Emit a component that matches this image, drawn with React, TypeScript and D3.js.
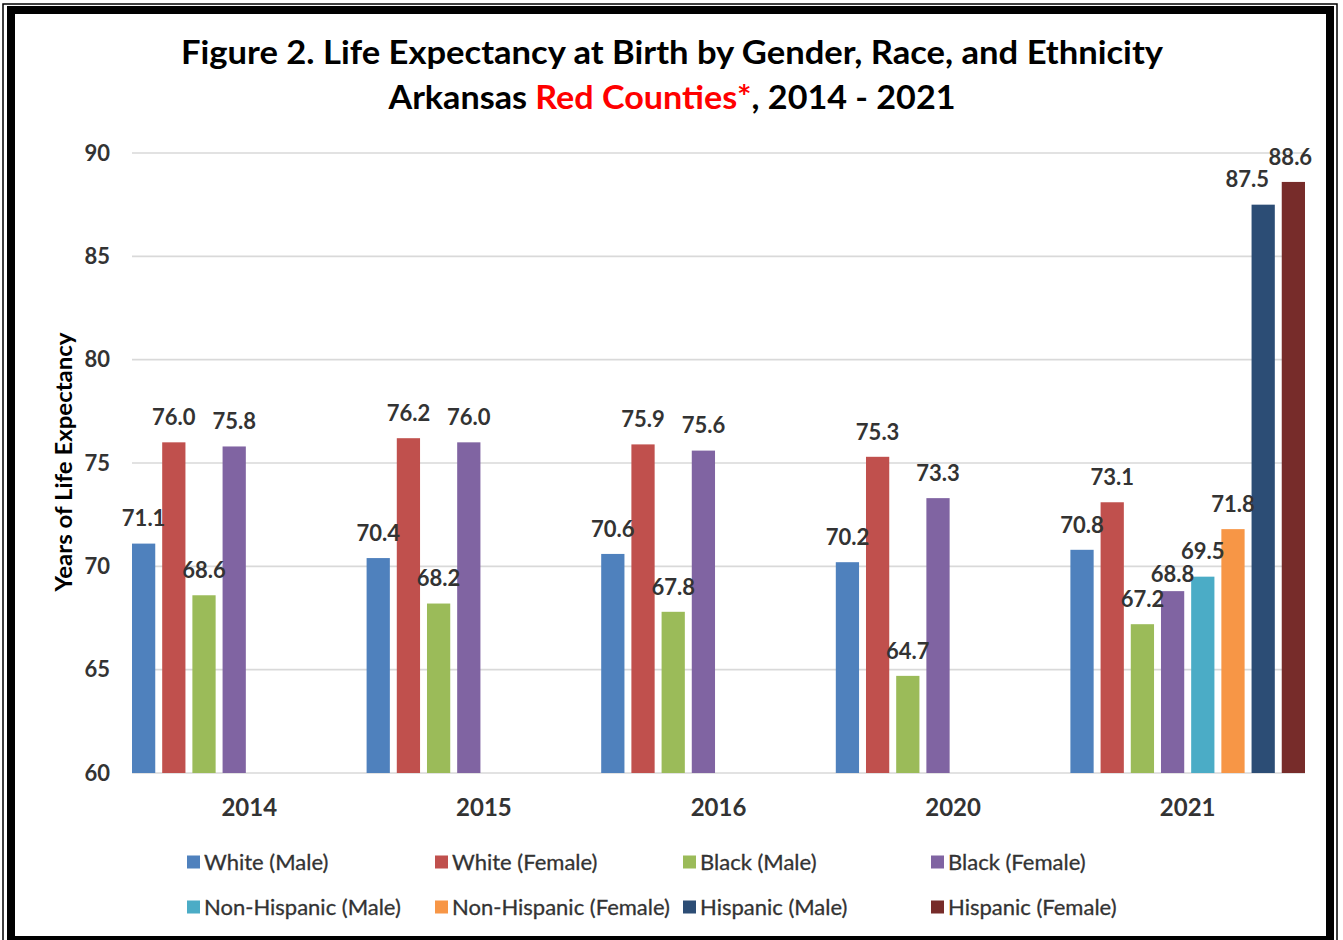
import React from "react";
import * as d3 from "d3";

// categories
const years = ["2014", "2015", "2016", "2020", "2021"];

const seriesNames = [
  "White (Male)",
  "White (Female)",
  "Black (Male)",
  "Black (Female)",
  "Non-Hispanic (Male)",
  "Non-Hispanic (Female)",
  "Hispanic (Male)",
  "Hispanic (Female)",
];

const seriesColors = [
  "#4F81BD",
  "#C0504D",
  "#9BBB59",
  "#8064A2",
  "#4BACC6",
  "#F79646",
  "#2C4D75",
  "#772C2A",
];

// values per series, one per year (null = not reported)
const whiteMale = [71.1, 70.4, 70.6, 70.2, 70.8];
const whiteFemale = [76.0, 76.2, 75.9, 75.3, 73.1];
const blackMale = [68.6, 68.2, 67.8, 64.7, 67.2];
const blackFemale = [75.8, 76.0, 75.6, 73.3, 68.8];
const nonHispanicMale = [null, null, null, null, 69.5];
const nonHispanicFemale = [null, null, null, null, 71.8];
const hispanicMale = [null, null, null, null, 87.5];
const hispanicFemale = [null, null, null, null, 88.6];

const yTicks = [60, 65, 70, 75, 80, 85, 90];

const seriesValues: (number | null)[][] = [
  whiteMale,
  whiteFemale,
  blackMale,
  blackFemale,
  nonHispanicMale,
  nonHispanicFemale,
  hispanicMale,
  hispanicFemale,
];

// a few labels were dragged by hand in the original
const labelNudge: Record<string, [number, number]> = {
  "2021-3": [0, 8],
  "2021-6": [-16, 0],
  "2021-7": [-3, 0],
};

const W = 1343;
const H = 940;
const font = "Lato, 'Open Sans', sans-serif";
const grey = "#333333";

export default function App() {
  const plot = { left: 132, right: 1305, top: 153, bottom: 773 };

  const x0 = d3.scaleBand<string>().domain(years).range([plot.left, plot.right]).padding(0);
  const x1 = d3
    .scaleBand<number>()
    .domain(d3.range(seriesNames.length))
    .range([0, x0.bandwidth()])
    .paddingInner(0.23)
    .paddingOuter(0);
  const y = d3.scaleLinear().domain([60, 90]).range([plot.bottom, plot.top]);

  const bars: { year: string; s: number; v: number }[] = [];
  years.forEach((yr, i) => {
    seriesValues.forEach((vals, s) => {
      const v = vals[i];
      if (v != null) bars.push({ year: yr, s, v });
    });
  });

  return (
    <svg
      width={W}
      height={H}
      style={{ position: "absolute", left: 0, top: 0, background: "#fff" }}
    >
      {/* frame */}
      <rect x={3} y={4} width={1334} height={H} fill="none" stroke="#000" strokeWidth={1.5} />
      <rect x={11} y={10} width={1319} height={930} fill="none" stroke="#000" strokeWidth={8} />

      {/* title */}
      <text
        x={672}
        y={64}
        textAnchor="middle"
        fontFamily={font}
        fontWeight={700}
        fontSize={33}
        fill="#000"
        textLength={982}
        lengthAdjust="spacingAndGlyphs"
      >
        Figure 2. Life Expectancy at Birth by Gender, Race, and Ethnicity
      </text>
      <text
        x={672}
        y={109}
        textAnchor="middle"
        fontFamily={font}
        fontWeight={700}
        fontSize={33}
        fill="#000"
        textLength={567}
        lengthAdjust="spacingAndGlyphs"
      >
        Arkansas <tspan fill="#FF0000">Red Counties*</tspan>, 2014 - 2021
      </text>

      {/* gridlines + y ticks */}
      {yTicks.map((t) => (
        <g key={t}>
          <line x1={plot.left} x2={plot.right} y1={y(t)} y2={y(t)} stroke="#D9D9D9" strokeWidth={1.6} />
          <text
            x={110}
            y={y(t)}
            dy="0.35em"
            textAnchor="end"
            fontFamily={font}
            fontWeight={700}
            fontSize={22}
            fill={grey}
          >
            {t}
          </text>
        </g>
      ))}

      {/* y axis title */}
      <text
        transform={`translate(72,${(plot.top + plot.bottom) / 2 - 1}) rotate(-90)`}
        textAnchor="middle"
        fontFamily={font}
        fontWeight={700}
        fontSize={22}
        fill="#000"
        textLength={259}
        lengthAdjust="spacingAndGlyphs"
      >
        Years of Life Expectancy
      </text>

      {/* bars */}
      {bars.map((d) => (
        <rect
          key={`${d.year}-${d.s}`}
          x={x0(d.year)! + x1(d.s)!}
          y={y(d.v)}
          width={x1.bandwidth()}
          height={y(60) - y(d.v)}
          fill={seriesColors[d.s]}
        />
      ))}

      {/* value labels */}
      {bars.map((d) => {
        const [dx, dy] = labelNudge[`${d.year}-${d.s}`] || [0, 0];
        return (
          <text
            key={`l-${d.year}-${d.s}`}
            x={x0(d.year)! + x1(d.s)! + x1.bandwidth() / 2 + dx}
            y={y(d.v) - 25 + dy}
            dy="0.35em"
            textAnchor="middle"
            fontFamily={font}
            fontWeight={700}
            fontSize={22}
            fill={grey}
          >
            {d.v.toFixed(1)}
          </text>
        );
      })}

      {/* x labels */}
      {years.map((yr) => (
        <text
          key={yr}
          x={x0(yr)! + x0.bandwidth() / 2}
          y={808}
          dy="0.35em"
          textAnchor="middle"
          fontFamily={font}
          fontWeight={700}
          fontSize={24}
          fill={grey}
        >
          {yr}
        </text>
      ))}

      {/* legend */}
      {seriesNames.map((name, i) => {
        const col = i % 4;
        const row = Math.floor(i / 4);
        const lx = 187 + col * 248;
        const ly = 862 + row * 45;
        return (
          <g key={name}>
            <rect x={lx} y={ly - 6.5} width={13} height={13} fill={seriesColors[i]} />
            <text
              x={lx + 17}
              y={ly}
              dy="0.35em"
              fontFamily={font}
              fontSize={22}
              fill={grey}
              stroke={grey}
              strokeWidth={0.3}
            >
              {name}
            </text>
          </g>
        );
      })}
    </svg>
  );
}
